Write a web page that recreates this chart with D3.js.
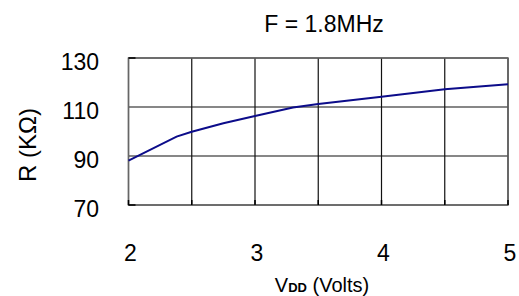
<!DOCTYPE html>
<html>
<head>
<meta charset="utf-8">
<script src="https://cdn.jsdelivr.net/npm/d3@7"></script>
<style>
  body { margin: 0; background: #fff; }
  svg { display: block; font-family: Arial, "Liberation Sans", sans-serif; }
</style>
</head>
<body>
<div id="chart"></div>
<script>
// values
const vdd = [2, 2.38, 2.5, 2.75, 3, 3.3, 3.5, 4, 4.5, 5];
const resistance = [88.1, 97.9, 99.9, 103.4, 106.3, 109.8, 111.2, 114.2, 117.2, 119.3];
const xTicks = [2, 3, 4, 5];
const xGrid = [2, 2.5, 3, 3.5, 4, 4.5, 5];
const yTicks = [70, 90, 110, 130];

const width = 519, height = 296;
const margin = {top: 58, right: 11, bottom: 91, left: 128.5};

const svg = d3.select("#chart").append("svg")
  .attr("width", width)
  .attr("height", height);

const x = d3.scaleLinear().domain([2, 5]).range([margin.left, width - margin.right]);
const y = d3.scaleLinear().domain([70, 130]).range([height - margin.bottom, margin.top]);

// grid
svg.append("g").selectAll("line")
  .data(xGrid)
  .enter().append("line")
  .attr("x1", d => x(d)).attr("x2", d => x(d))
  .attr("y1", y(70)).attr("y2", y(130))
  .attr("stroke", "#111").attr("stroke-width", 1.2);

svg.append("g").selectAll("line")
  .data(yTicks)
  .enter().append("line")
  .attr("x1", x(2)).attr("x2", x(5))
  .attr("y1", d => y(d)).attr("y2", d => y(d))
  .attr("stroke", "#111").attr("stroke-width", 1.2);

// frame
svg.append("rect")
  .attr("x", x(2)).attr("y", y(130))
  .attr("width", x(5) - x(2)).attr("height", y(70) - y(130))
  .attr("fill", "none").attr("stroke", "#666").attr("stroke-width", 1.5);

// small inward ticks
svg.append("g").selectAll("line")
  .data(xGrid)
  .enter().append("line")
  .attr("x1", d => x(d)).attr("x2", d => x(d))
  .attr("y1", y(70)).attr("y2", y(70) - 5)
  .attr("stroke", "#000").attr("stroke-width", 1.5);

svg.append("g").selectAll("line")
  .data([70, 130])
  .enter().append("line")
  .attr("x1", x(2)).attr("x2", x(2) + 7)
  .attr("y1", d => y(d)).attr("y2", d => y(d))
  .attr("stroke", "#000").attr("stroke-width", 1.5);

// curve
const line = d3.line()
  .x((d, i) => x(vdd[i]))
  .y(d => y(d));

svg.append("path")
  .datum(resistance)
  .attr("d", line)
  .attr("fill", "none")
  .attr("stroke", "#0c0c8a")
  .attr("stroke-width", 2);

// tick labels
svg.append("g").selectAll("text")
  .data(yTicks)
  .enter().append("text")
  .attr("x", 99)
  .attr("y", d => y(d) + 4)
  .attr("text-anchor", "end")
  .attr("dominant-baseline", "central")
  .attr("font-size", 23)
  .text(d => d);

svg.append("g").selectAll("text")
  .data(xTicks)
  .enter().append("text")
  .attr("x", d => x(d) + 2)
  .attr("y", 253)
  .attr("text-anchor", "middle")
  .attr("dominant-baseline", "central")
  .attr("font-size", 23)
  .text(d => d);

// title
svg.append("text")
  .attr("x", 324)
  .attr("y", 24)
  .attr("text-anchor", "middle")
  .attr("dominant-baseline", "central")
  .attr("font-size", 23)
  .text("F = 1.8MHz");

// axis titles
const xl = svg.append("text")
  .attr("x", 322)
  .attr("y", 292)
  .attr("text-anchor", "middle")
  .attr("font-size", 20);
xl.append("tspan").text("V");
xl.append("tspan").attr("font-size", 13).attr("font-weight", "bold").text("DD");
xl.append("tspan").text(" (Volts)");

svg.append("text")
  .attr("transform", "translate(27,145) rotate(-90)")
  .attr("text-anchor", "middle")
  .attr("dominant-baseline", "central")
  .attr("font-size", 24)
  .text("R (KΩ)");
</script>
</body>
</html>
